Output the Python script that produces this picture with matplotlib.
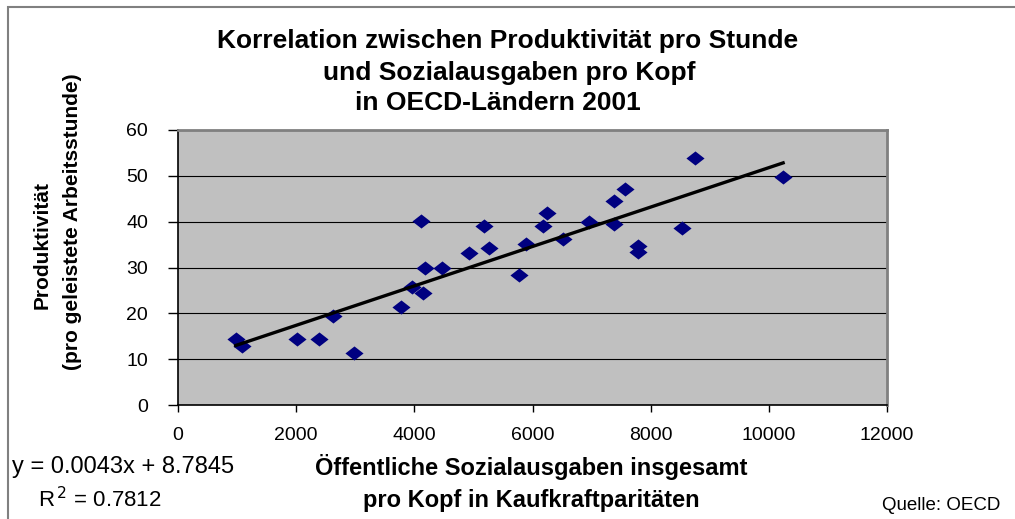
import numpy as np
import matplotlib
matplotlib.use("Agg")
import matplotlib.pyplot as plt
from matplotlib.patches import Rectangle

plt.rcParams['font.family'] = ['Liberation Sans', 'DejaVu Sans']

# Sozialausgaben pro Kopf (KKP) und Produktivitaet pro Stunde, OECD 2001
ausgaben = [976, 1077, 2013, 2386, 2623, 2984, 3768, 3954, 4106, 4151,
            4174, 4473, 4924, 5178, 5257, 5775, 5883, 6181, 6249, 6520,
            6960, 7372, 7372, 7563, 7783, 7783, 8528, 8753, 10242]
produktivitaet = [14.5, 12.8, 14.4, 14.4, 19.5, 11.4, 21.4, 25.8, 40.1, 24.4,
                  29.8, 29.8, 33.1, 39.1, 34.3, 28.4, 35.1, 39.1, 42.0, 36.2,
                  40.0, 44.6, 39.4, 47.1, 34.8, 33.4, 38.7, 53.8, 49.8]

# Trendlinie laut Excel
steigung = 0.0043
achsenabschnitt = 8.7845
r2 = 0.7812

x_ticks = [0, 2000, 4000, 6000, 8000, 10000, 12000]
y_ticks = [0, 10, 20, 30, 40, 50, 60]

W, H = 1015, 519
fig = plt.figure(figsize=(W / 100, H / 100), dpi=100)
fig.patch.set_facecolor('white')

# Rahmen um das Diagramm
fig.patches.append(Rectangle((8 / W, -0.05), 1.1, 1 - 7 / H + 0.05,
                             transform=fig.transFigure, fill=False,
                             edgecolor='#808080', linewidth=1.5))

ax = fig.add_axes([178 / W, (H - 405) / H, (887 - 178) / W, (405 - 130) / H])
ax.set_facecolor('#C0C0C0')
ax.set_xlim(0, 12000)
ax.set_ylim(0, 60)
ax.set_xticks(x_ticks)
ax.set_yticks(y_ticks)
ax.tick_params(axis='both', labelsize=14, direction='out', color='black')
ax.tick_params(axis='y', length=7.5, width=1, pad=14)
ax.tick_params(axis='x', length=5, width=1, pad=11)
ax.grid(axis='y', color='black', linewidth=0.8)
ax.set_axisbelow(True)
for s in ['left', 'bottom']:
    ax.spines[s].set_color('black')
    ax.spines[s].set_linewidth(1.2)
for s in ['top', 'right']:
    ax.spines[s].set_color('#808080')
    ax.spines[s].set_linewidth(2)

diamant = [(-1, 0), (0, 0.78), (1, 0), (0, -0.78), (-1, 0)]
ax.scatter(ausgaben, produktivitaet, marker=diamant, s=170,
           color='#000080', zorder=3, linewidths=0)

xs = np.array([min(ausgaben), max(ausgaben)])
ax.plot(xs, steigung * xs + achsenabschnitt, color='black', linewidth=2.4, zorder=4)

# Titel
fig.text(508 / W, 1 - 41 / H, 'Korrelation zwischen Produktivität pro Stunde',
         ha='center', va='center', fontsize=19, fontweight='bold')
fig.text(509 / W, 1 - 73 / H, 'und Sozialausgaben pro Kopf',
         ha='center', va='center', fontsize=19, fontweight='bold')
fig.text(498 / W, 1 - 103 / H, 'in OECD-Ländern 2001',
         ha='center', va='center', fontsize=19, fontweight='bold')

# Achsentitel
fig.text(42 / W, 1 - 245 / H, 'Produktivität', rotation=90,
         ha='center', va='center', fontsize=15, fontweight='bold')
fig.text(73 / W, 1 - 222 / H, '(pro geleistete Arbeitsstunde)', rotation=90,
         ha='center', va='center', fontsize=15, fontweight='bold')
fig.text(531 / W, 1 - 467 / H, 'Öffentliche Sozialausgaben insgesamt',
         ha='center', va='center', fontsize=17, fontweight='bold')
fig.text(531 / W, 1 - 500 / H, 'pro Kopf in Kaufkraftparitäten',
         ha='center', va='center', fontsize=17, fontweight='bold')

# Gleichung der Trendlinie
fig.text(12 / W, 1 - 467 / H, 'y = %.4fx + %.4f' % (steigung, achsenabschnitt),
         ha='left', va='center', fontsize=17)
fig.text(38 / W, 1 - 500 / H, 'R$^{\\,2}$ = %.4f' % r2,
         ha='left', va='center', fontsize=16)

fig.text(1000 / W, 1 - 506 / H, 'Quelle: OECD', ha='right', va='center', fontsize=13.5)

fig.savefig('out.png', dpi=100, facecolor='white')
